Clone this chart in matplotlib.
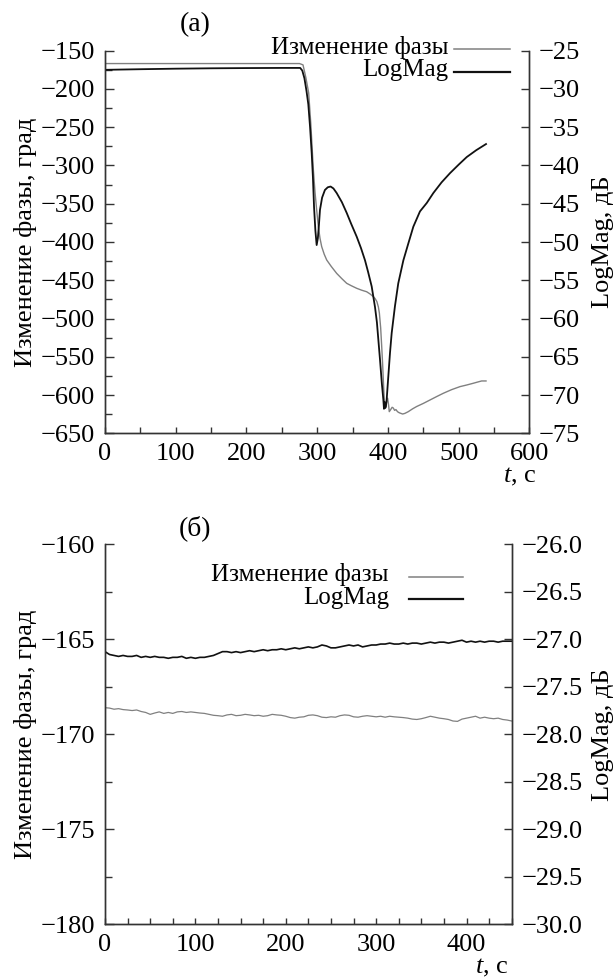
import matplotlib
matplotlib.use("Agg")
import matplotlib.pyplot as plt
from matplotlib.ticker import MultipleLocator

plt.rcParams['font.family'] = ['Liberation Serif', 'DejaVu Serif']
plt.rcParams['mathtext.fontset'] = 'custom'
plt.rcParams['mathtext.rm'] = 'Liberation Serif'
plt.rcParams['mathtext.it'] = 'Liberation Serif:italic'

# ---- panel (a): phase change and LogMag during the run ----
t_phase_a = [0, 50, 100, 150, 200, 250, 275, 280, 284, 288, 291, 294.6, 297, 299.3, 301.7,
             304, 306.4, 310, 313.5, 320, 327.6, 335, 341.8, 348, 355.9, 363, 370, 375,
             379.5, 382, 384.5, 386.6, 388, 389.8, 391.2, 392.6, 393.8, 394.9, 396, 396.8,
             398, 399.6, 401, 402, 404, 406, 407.7, 409.5, 411.4, 413, 414.7, 417, 420.9,
             424, 428.9, 435, 440.7, 450, 459.5, 469, 478.4, 490, 502, 511, 520.8, 527,
             532.6, 538.8]
phase_a = [-166.8, -166.8, -166.8, -166.8, -166.8, -166.8, -166.8, -168.5, -185, -205, -245,
           -305, -335, -358, -380, -395, -406, -416, -423.5, -432, -441, -448, -454, -457,
           -460.5, -463, -465, -468, -471.5, -474, -478, -485, -493, -512, -535, -560, -585,
           -606, -614, -617, -610, -604, -613, -621.7, -619, -616, -617, -620, -619, -621,
           -622.5, -623.5, -624.8, -624, -621.7, -618, -615, -611, -606.5, -602, -597.7,
           -593, -589, -587, -584.6, -583, -581.6, -581.6]

t_mag_a = [0, 50, 100, 150, 200, 250, 276, 279, 282, 285, 287.5, 290, 292.3, 294, 295.6,
           297.5, 299.3, 301, 302.5, 304, 307, 311, 315, 319, 323, 327.6, 335, 341.8, 348,
           355.9, 362, 367.7, 372, 377.1, 381.8, 384.5, 388.9, 391.5, 393.6, 394.5, 395.3,
           396, 397.2, 398.3, 400.6, 403, 405.4, 410, 414.7, 421.9, 428.9, 436, 445.4, 455,
           464.3, 476, 487.9, 500, 511.5, 525, 538.8]
mag_a = [-27.5, -27.42, -27.35, -27.3, -27.27, -27.25, -27.25, -27.6, -28.6, -30.3, -32.0,
         -35.0, -38.4, -41.5, -45.4, -48.5, -50.4, -49.5, -47.8, -45.8, -44.2, -43.2, -42.85,
         -42.75, -43.0, -43.6, -44.8, -46.2, -47.6, -49.3, -50.8, -52.4, -53.9, -55.8, -58.5,
         -60.5, -65.4, -68.5, -70.6, -71.8, -70.9, -71.7, -71.5, -70.6, -67.6, -64.5, -61.9,
         -58.4, -55.4, -52.4, -50.2, -48.0, -46.0, -44.9, -43.6, -42.2, -41.0, -39.9, -38.9,
         -38.0, -37.2]

# ---- panel (b): stable baseline, sampled every 5 s ----
t_b = list(range(0, 455, 5))
phase_b = [-168.6, -168.62, -168.68, -168.65, -168.7, -168.72, -168.75, -168.72, -168.8,
           -168.85, -168.95, -168.88, -168.82, -168.9, -168.85, -168.9, -168.82, -168.8,
           -168.85, -168.82, -168.85, -168.88, -168.9, -168.95, -169.0, -169.02, -169.05,
           -168.98, -168.95, -169.02, -169.0, -168.95, -168.98, -169.02, -169.0, -169.05,
           -169.02, -168.95, -168.98, -169.0, -169.05, -169.12, -169.15, -169.1, -169.08,
           -169.0, -168.98, -169.02, -169.1, -169.12, -169.08, -169.1, -169.02, -168.98,
           -169.0, -169.08, -169.1, -169.05, -169.02, -169.05, -169.08, -169.05, -169.1,
           -169.05, -169.08, -169.1, -169.12, -169.15, -169.2, -169.22, -169.18, -169.12,
           -169.05, -169.1, -169.15, -169.18, -169.22, -169.3, -169.32, -169.2, -169.15,
           -169.1, -169.05, -169.15, -169.1, -169.15, -169.18, -169.15, -169.22, -169.25,
           -169.3]
mag_b = [-27.13, -27.16, -27.17, -27.18, -27.17, -27.18, -27.18, -27.17, -27.19, -27.18,
         -27.19, -27.18, -27.19, -27.19, -27.2, -27.19, -27.19, -27.18, -27.2, -27.19,
         -27.2, -27.19, -27.19, -27.18, -27.17, -27.15, -27.13, -27.13, -27.14, -27.13,
         -27.14, -27.13, -27.12, -27.13, -27.12, -27.11, -27.12, -27.11, -27.11, -27.1,
         -27.11, -27.1, -27.09, -27.1, -27.09, -27.08, -27.09, -27.08, -27.06, -27.07,
         -27.09, -27.09, -27.08, -27.07, -27.06, -27.07, -27.06, -27.08, -27.07, -27.06,
         -27.06, -27.05, -27.05, -27.04, -27.05, -27.05, -27.04, -27.05, -27.04, -27.04,
         -27.05, -27.04, -27.03, -27.04, -27.03, -27.03, -27.04, -27.03, -27.02, -27.01,
         -27.03, -27.02, -27.03, -27.02, -27.03, -27.02, -27.02, -27.03, -27.02, -27.02,
         -27.02]

ylabel_left = "Изменение фазы, град"
ylabel_right = "LogMag, дБ"
legend_labels = ["Изменение фазы", "LogMag"]

GRAY = "#808080"
BLACK = "#111111"
SPINE = "#333333"
FS = 19

fig = plt.figure(figsize=(6.13, 9.8), dpi=100)
W, H = 613, 980


def add_axes_px(left, top, right, bottom):
    return fig.add_axes([left / W, 1 - bottom / H, (right - left) / W, (bottom - top) / H])


def style(ax, ax2, xlim, ylim, ylim2, xmaj, xmin, ymaj, ymin, y2maj):
    ax.set_xlim(*xlim)
    ax.set_ylim(*ylim)
    ax2.set_ylim(*ylim2)
    for a in (ax, ax2):
        a.spines['top'].set_visible(False)
        for s in a.spines.values():
            s.set_color(SPINE)
            s.set_linewidth(1.0)
    ax.xaxis.set_major_locator(MultipleLocator(xmaj))
    ax.xaxis.set_minor_locator(MultipleLocator(xmin))
    ax.yaxis.set_major_locator(MultipleLocator(ymaj))
    ax.yaxis.set_minor_locator(MultipleLocator(ymin))
    ax2.yaxis.set_major_locator(MultipleLocator(y2maj))
    ax.tick_params(axis='both', which='both', direction='in', labelsize=FS, color=SPINE,
                   top=False, right=False, pad=7)
    ax.tick_params(axis='y', which='major', length=6.5, width=1)
    ax.tick_params(axis='y', which='minor', length=5, width=1)
    ax.tick_params(axis='x', which='both', length=4, width=1)
    ax2.tick_params(axis='y', which='major', direction='in', length=6, width=1,
                    labelsize=FS, color=SPINE, pad=7)


def legend(ax, xt, xl0, xl1, y0, y1):
    for y, lab, c, lw in [(y0, legend_labels[0], GRAY, 1.1), (y1, legend_labels[1], BLACK, 1.6)]:
        ax.text(xt, y - 0.012, lab, transform=ax.transAxes, ha='right', va='baseline',
                fontsize=18)
        ax.plot([xl0, xl1], [y, y], transform=ax.transAxes, color=c, lw=lw, clip_on=False)


def labels(ax, tag, tag_xy, left_x, right_x, t_xy):
    ax.text(*tag_xy, tag, transform=ax.transAxes, ha='center', va='center', fontsize=20)
    ax.text(left_x, 0.5, ylabel_left, transform=ax.transAxes, rotation=90,
            ha='center', va='center', fontsize=FS)
    ax.text(right_x, 0.5, ylabel_right, transform=ax.transAxes, rotation=90,
            ha='center', va='center', fontsize=FS)
    ax.text(*t_xy, "$t$, с", transform=ax.transAxes, ha='right', va='center', fontsize=FS)


# Panel (a)
ax_a = add_axes_px(105, 50.7, 529.3, 433.3)
ax_a2 = ax_a.twinx()
ax_a.plot(t_phase_a, phase_a, color=GRAY, lw=1.0)
ax_a2.plot(t_mag_a, mag_a, color=BLACK, lw=1.3)
style(ax_a, ax_a2, (0, 600), (-650, -150), (-75, -25), 100, 50, 50, 25, 5)
legend(ax_a, 0.8084, 0.8225, 0.9545, 1.0037, 0.945)
labels(ax_a, "(a)", (0.212, 1.067), -0.1885, 1.174, (1.017, -0.114))

# Panel (b)
ax_b = add_axes_px(105, 544.3, 511.7, 924.3)
ax_b2 = ax_b.twinx()
ax_b.plot(t_b, phase_b, color=GRAY, lw=0.9)
ax_b2.plot(t_b, mag_b, color=BLACK, lw=1.2)
style(ax_b, ax_b2, (0, 450), (-180, -160), (-30, -26), 100, 25, 5, 2.5, 0.5)
legend(ax_b, 0.6983, 0.7475, 0.8803, 0.9147, 0.856)
labels(ax_b, "(б)", (0.2213, 1.043), -0.1967, 1.2245, (0.991, -0.115))

fig.savefig("out.png", dpi=100)
